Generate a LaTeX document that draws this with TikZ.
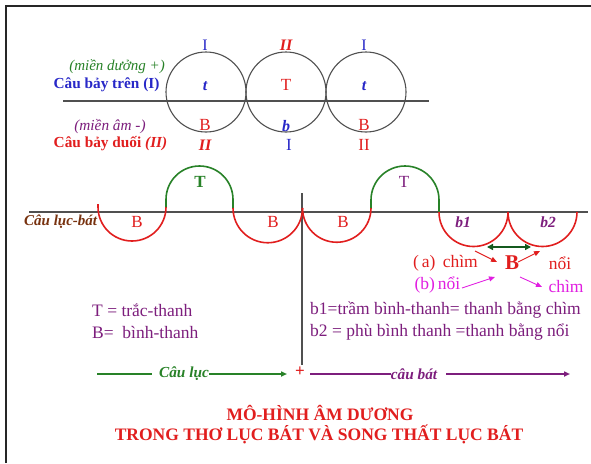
\documentclass[tikz,border=0pt]{standalone}
\usepackage{fontspec}
\setmainfont{Liberation Serif}
\usetikzlibrary{arrows.meta}
\definecolor{cblue}{RGB}{40,40,200}
\definecolor{cred}{RGB}{225,30,30}
\definecolor{cgreen}{RGB}{40,130,40}
\definecolor{cdgreen}{RGB}{20,90,30}
\definecolor{cpurple}{RGB}{125,30,125}
\definecolor{cbrown}{RGB}{120,50,15}
\definecolor{cmag}{RGB}{225,30,225}
\definecolor{cgray}{RGB}{80,80,80}
\newcommand\fsz[1]{\fontsize{#1}{#1}\selectfont}
\begin{document}
\begin{tikzpicture}[x=1pt,y=-1pt,
  txt/.style={inner sep=0pt, anchor=center},
  ring/.style={circle, draw=cgray, line width=1.1pt, minimum size=80pt, inner sep=0pt},
  rule/.style={draw=cgray, line width=1.1pt},
  barc/.style={draw=cred, line width=1.6pt},
  tarc/.style={draw=cgreen, line width=1.6pt},
  tip/.style={-{Triangle[length=6pt,width=5pt]}}]
\useasboundingbox (0,0) rectangle (591,463);
\fill[white] (0,0) rectangle (591,463);
\draw[line width=1.2pt, black!85] (6,463) -- (6,6) -- (591,6);

% top part
\node[ring] (c1) at (206,92) {};
\node[ring] (c2) at (286,92) {};
\node[ring] (c3) at (366,92) {};
\coordinate (tl) at (63,101);
\coordinate (tr) at (429,101);
\draw[rule] (tl) -- (tr);

\node[txt, text=cblue, font=\fsz{16}] (u1) at (205,45) {I};
\node[txt, text=cred, font=\fsz{16}\bfseries\itshape] (u2) at (286,45) {II};
\node[txt, text=cblue, font=\fsz{16}] (u3) at (364,45) {I};
\node[txt, text=cblue, font=\fsz{16}\bfseries\itshape] (m1) at (205,86) {t};
\node[txt, text=cred, font=\fsz{17}] (m2) at (286,85) {T};
\node[txt, text=cblue, font=\fsz{16}\bfseries\itshape] (m3) at (364,86) {t};
\node[txt, text=cred, font=\fsz{17}] (l1) at (205,125) {B};
\node[txt, text=cblue, font=\fsz{16}\bfseries\itshape] (l2) at (286,126) {b};
\node[txt, text=cred, font=\fsz{17}] (l3) at (364,125) {B};
\node[txt, text=cred, font=\fsz{16}\bfseries\itshape] (d1) at (205,145) {II};
\node[txt, text=cblue, font=\fsz{17}] (d2) at (289,145) {I};
\node[txt, text=cred, font=\fsz{17}] (d3) at (364,145) {II};

\node[txt, anchor=east, text=cgreen, font=\fsz{15}\itshape] (mdu) at (165,67) {(miền dưởng +)};
\node[txt, text=cblue, font=\fsz{15.3}\bfseries] (cbt) at (106.5,85) {Câu bảy trên (I)};
\node[txt, text=cpurple, font=\fsz{15.3}\itshape] (mam) at (110,127) {(miền âm -)};
\node[txt, text=cred, font=\fsz{15.3}\bfseries] (cbd) at (110.5,144) {Câu bảy duối \textit{(II)}};

% middle wave
\coordinate (ml) at (29,212);
\coordinate (mr) at (588,212);
\draw[rule] (ml) -- (mr);
\coordinate (vt) at (302,193);
\coordinate (vb) at (302,365);
\draw[rule] (vt) -- (vb);

\draw[barc] (98,204) -- (98,207) arc[start angle=180, end angle=0, radius=34];
\draw[tarc] (166,207) -- (166,199.5) arc[start angle=180, end angle=360, radius=33.5] -- (233,208);
\draw[barc] (233,208) arc[start angle=180, end angle=0, radius=34.75];
\draw[barc] (302.5,208) arc[start angle=180, end angle=0, radius=34.25];
\draw[tarc] (371,208) -- (371,200) arc[start angle=180, end angle=360, radius=34] -- (439,212);
\draw[barc] (439,212) arc[start angle=180, end angle=0, radius=34.5];
\draw[barc] (508,212) arc[start angle=180, end angle=0, radius=34.5];

\node[txt, anchor=west, text=cbrown, font=\fsz{15}\bfseries\itshape] (clb) at (24,222) {Câu lục-bát};
\node[txt, text=cred, font=\fsz{17}] (w1) at (137,222) {B};
\node[txt, text=cgreen, font=\fsz{17}\bfseries] (w2) at (200,182) {T};
\node[txt, text=cred, font=\fsz{17}] (w3) at (273,222) {B};
\node[txt, text=cred, font=\fsz{17}] (w4) at (343,222) {B};
\node[txt, text=cpurple, font=\fsz{17}] (w5) at (404,182) {T};
\node[txt, text=cpurple, font=\fsz{15.5}\bfseries\itshape] (w6) at (463,222) {b1};
\node[txt, text=cpurple, font=\fsz{15.5}\bfseries\itshape] (w7) at (548,222) {b2};

\coordinate (da) at (487,247);
\coordinate (db) at (531,247);
\draw[cdgreen, line width=1.8pt, {Triangle[length=6pt,width=6pt]}-{Triangle[length=6pt,width=6pt]}] (da) -- (db);

\node[txt, text=cred, font=\fsz{17.5}] (ach) at (445.5,263) {(\,a)\, chìm};
\node[txt, text=cred, font=\fsz{21}\bfseries] (bb) at (512,263) {B};
\node[txt, text=cred, font=\fsz{17.5}] (noi) at (560,263) {nổi};
\node[txt, text=cmag, font=\fsz{17.5}] (bno) at (437.5,285) {(b)\,nổi};
\node[txt, text=cmag, font=\fsz{17.5}] (chm) at (566,286) {chìm};
\coordinate (r1a) at (475,251);
\coordinate (r1b) at (497,262);
\coordinate (r2a) at (518,262);
\coordinate (r2b) at (540,251);
\coordinate (m1a) at (462,288);
\coordinate (m1b) at (495,277);
\coordinate (m2a) at (520,277);
\coordinate (m2b) at (542,287);
\draw[cred, line width=0.9pt, tip] (r1a) -- (r1b);
\draw[cred, line width=0.9pt, tip] (r2a) -- (r2b);
\draw[cmag, line width=0.9pt, tip] (m1a) -- (m1b);
\draw[cmag, line width=0.9pt, tip] (m2a) -- (m2b);

% legend
\node[txt, anchor=west, text=cpurple, font=\fsz{17.5}] (lt) at (92,310) {T = trắc-thanh};
\node[txt, anchor=west, text=cpurple, font=\fsz{17.5}] (lb) at (92,332) {B=\ \ bình-thanh};
\node[txt, anchor=west, text=cpurple, font=\fsz{17.5}] (lb1) at (310,310) {b1=trầm bình-thanh= thanh bằng chìm};
\node[txt, anchor=west, text=cpurple, font=\fsz{17.5}] (lb2) at (310,332) {b2 = phù bình thanh =thanh bằng nổi};

% bottom arrows
\node[txt, text=cgreen, font=\fsz{15.3}\bfseries\itshape] (cl) at (184,374) {Câu lục};
\coordinate (g0) at (97,374);
\coordinate (g1) at (287,374);
\draw[cgreen, line width=1.5pt] (g0) -- ([xshift=-7pt]cl.west);
\draw[cgreen, line width=1.5pt, tip] (cl.east) -- (g1);
\node[txt, text=cred, font=\fsz{17}\bfseries] (plus) at (300,372) {+};
\node[txt, text=cpurple, font=\fsz{15.3}\bfseries\itshape] (cb) at (414,374) {câu bát};
\coordinate (p0) at (310,374);
\coordinate (p1) at (570,374);
\draw[cpurple, line width=1.5pt] (p0) -- (cb.west);
\draw[cpurple, line width=1.5pt, tip] ([xshift=9pt]cb.east) -- (p1);

% title
\node[txt, text=cred, font=\fsz{17.5}\bfseries] (t1) at (320,413) {MÔ-HÌNH ÂM DƯƠNG};
\node[txt, text=cred, font=\fsz{17.5}\bfseries] (t2) at (319,434) {TRONG THƠ LỤC BÁT VÀ SONG THẤT LỤC BÁT};
\end{tikzpicture}
\end{document}
